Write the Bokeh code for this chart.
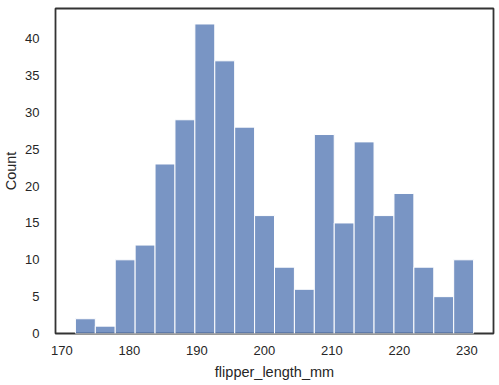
from bokeh.plotting import figure
from bokeh.models import Range1d, FixedTicker
from bokeh.embed import file_html
from bokeh.resources import INLINE
import numpy as np

bin_min = 172.0
bin_max = 231.0
counts = [2, 1, 10, 12, 23, 29, 42, 37, 28, 16, 9, 6, 27, 15, 26, 16, 19, 9, 5, 10]
x_ticks = [170, 180, 190, 200, 210, 220, 230]
y_ticks = [0, 5, 10, 15, 20, 25, 30, 35, 40]

edges = np.linspace(bin_min, bin_max, len(counts) + 1)
pad = (bin_max - bin_min) * 0.05

p = figure(frame_width=438, frame_height=325, output_backend="svg", toolbar_location=None,
           x_range=Range1d(bin_min - pad, bin_max + pad), y_range=Range1d(0, max(counts) * 1.05),
           min_border_left=53, min_border_top=8, min_border_right=8, min_border_bottom=45)
p.quad(left=edges[:-1], right=edges[1:], bottom=0, top=counts,
       fill_color="#4C72B0", fill_alpha=0.75, line_color="white", line_width=1)

p.grid.visible = False
p.outline_line_color = "#333333"
p.outline_line_width = 1.8
p.background_fill_color = "white"
p.border_fill_color = "white"

for ax in (p.xaxis, p.yaxis):
    ax.axis_line_color = None
    ax.major_tick_line_color = None
    ax.minor_tick_line_color = None
    ax.major_label_text_font = "Liberation Sans"
    ax.major_label_text_font_size = "13px"
    ax.major_label_text_color = "#262626"
    ax.axis_label_text_font = "Liberation Sans"
    ax.axis_label_text_font_size = "14.5px"
    ax.axis_label_text_font_style = "normal"
    ax.axis_label_text_color = "#262626"

p.xaxis.axis_label_standoff = 6
p.yaxis.axis_label_standoff = 3
p.xaxis.major_label_standoff = 6
p.yaxis.major_label_standoff = 10
p.xaxis.ticker = FixedTicker(ticks=x_ticks)
p.yaxis.ticker = FixedTicker(ticks=y_ticks)
p.xaxis.axis_label = "flipper_length_mm"
p.yaxis.axis_label = "Count"

open("out.html", "w").write(file_html(p, INLINE))
